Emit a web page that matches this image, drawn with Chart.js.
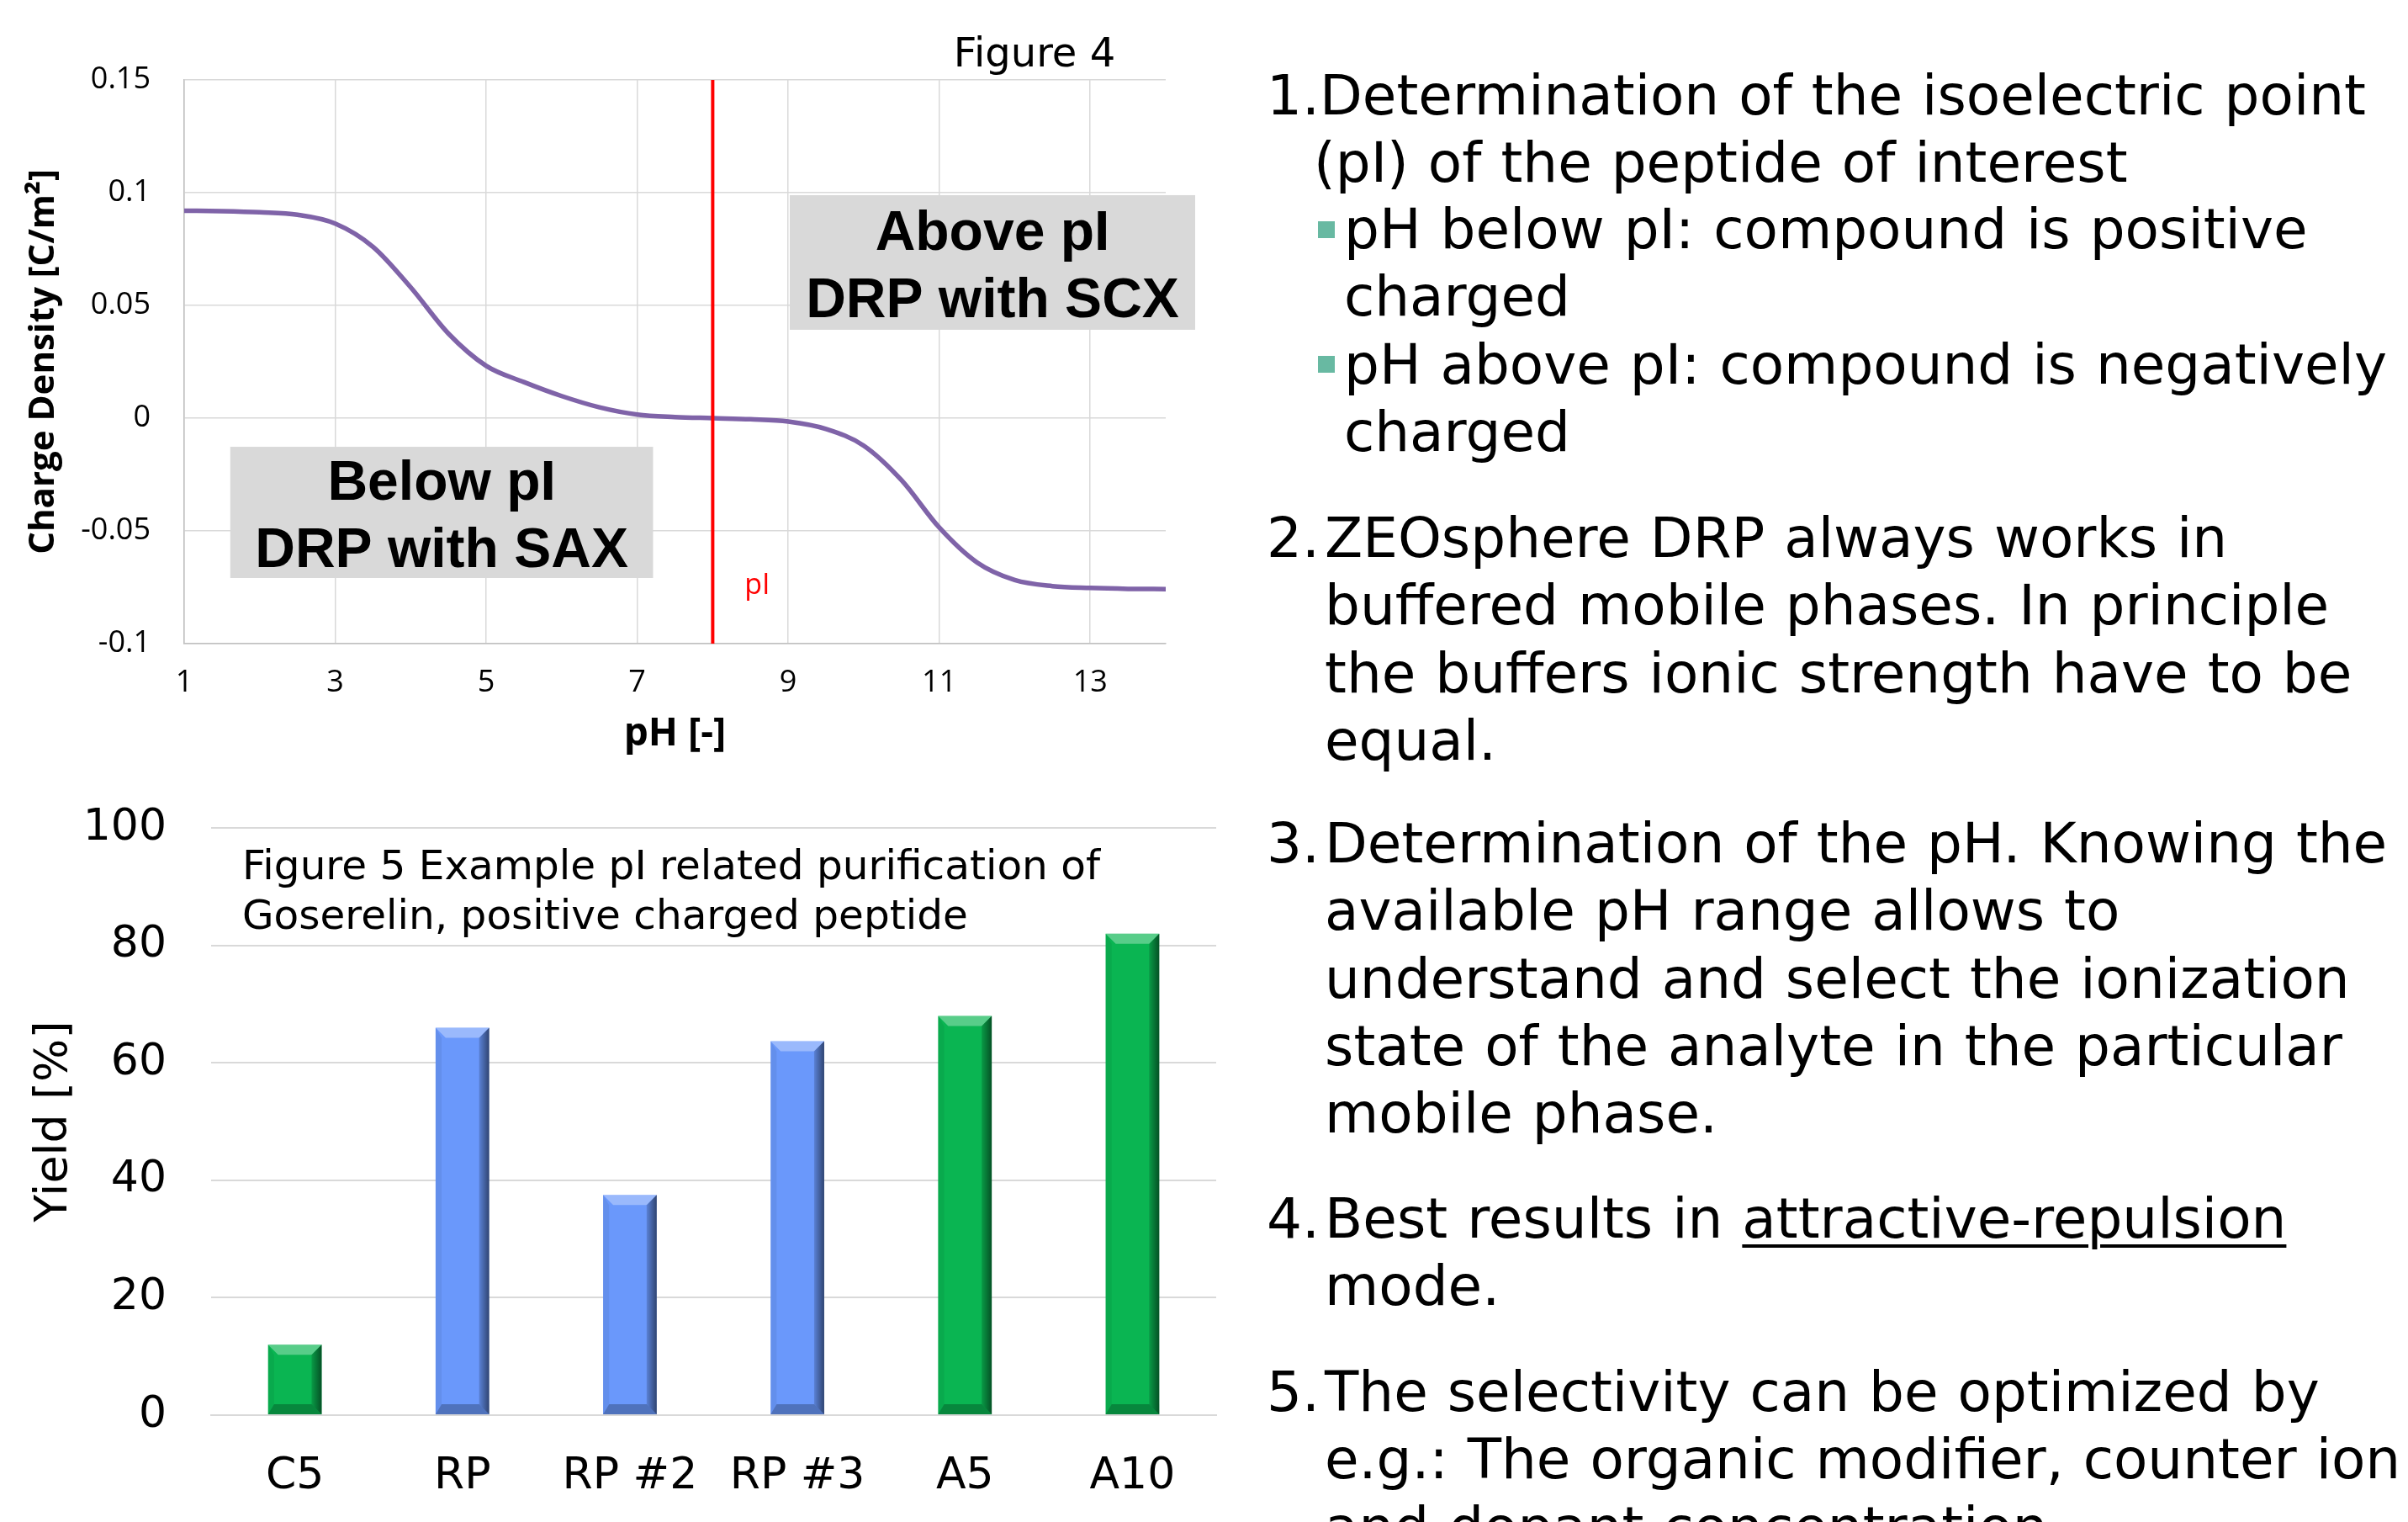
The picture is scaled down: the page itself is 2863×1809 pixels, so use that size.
<!DOCTYPE html>
<html>
<head>
<meta charset="utf-8">
<script src="https://cdn.jsdelivr.net/npm/chart.js@4.4.1/dist/chart.umd.min.js"></script>
<style>
  html, body { margin: 0; padding: 0; background: #fff; }
  body { width: 2863px; height: 1809px; position: relative; overflow: hidden; }
  #chargeChart { position: absolute; left: 0; top: 0; }
  #yieldChart { position: absolute; left: 0; top: 900px; }
  .notes {
    position: absolute;
    font-family: "DejaVu Sans", Verdana, sans-serif;
    font-size: 66px;
    line-height: 80.3px;
    color: #000;
    white-space: nowrap;
    word-spacing: 2px;
  }
  .bullet { position: absolute; left: 1567px; width: 20px; height: 20px; background: #68B9A2; }
  u { text-decoration-thickness: 4px; text-underline-offset: 8px; }
</style>
</head>
<body>
<canvas id="chargeChart" width="1450" height="900"></canvas>
<canvas id="yieldChart" width="1450" height="909"></canvas>

<!-- right hand notes -->
<div class="notes" style="left:1506px;top:74px">1.Determination of the isoelectric point</div>
<div class="notes" style="left:1562px;top:154px">(pI) of the peptide of interest</div>
<div class="bullet" style="top:263px"></div>
<div class="bullet" style="top:423px"></div>
<div class="notes" style="left:1598px;top:233px">pH below pI: compound is positive<br>charged<br>pH above pI: compound is negatively<br>charged</div>

<div class="notes" style="left:1506px;top:600px">2.</div>
<div class="notes" style="left:1575px;top:600px">ZEOsphere DRP always works in<br>buffered mobile phases. In principle<br>the buffers ionic strength have to be<br>equal.</div>

<div class="notes" style="left:1506px;top:963px">3.</div>
<div class="notes" style="left:1575px;top:963px">Determination of the pH. Knowing the<br>available pH range allows to<br>understand and select the ionization<br>state of the analyte in the particular<br>mobile phase.</div>

<div class="notes" style="left:1506px;top:1409px">4.</div>
<div class="notes" style="left:1575px;top:1409px">Best results in <u>attractive-repulsion</u><br>mode.</div>

<div class="notes" style="left:1506px;top:1615px">5.</div>
<div class="notes" style="left:1575px;top:1615px">The selectivity can be optimized by<br>e.g.: The organic modifier, counter ion<br>and dopant concentration.</div>

<script>
// ---- Figure 4: charge density vs pH ----
const phValues = [1, 1.5, 2, 2.5, 3, 3.5, 4, 4.5, 5, 5.5, 6, 6.5, 7, 7.5, 8,
                  8.5, 9, 9.5, 10, 10.5, 11, 11.5, 12, 12.5, 13, 13.5, 14];
const chargeDensity = [0.0920, 0.0918, 0.0913, 0.0902, 0.0863, 0.0760, 0.0580, 0.0375, 0.0232,
                       0.0160, 0.0098, 0.0048, 0.0016, 0.0005, 0.0000, -0.0005, -0.0015, -0.0048,
                       -0.0122, -0.0275, -0.0485, -0.0640, -0.0718, -0.0745, -0.0753, -0.0757, -0.0758];
const phTicks = [1, 3, 5, 7, 9, 11, 13];
const chargeTicks = [-0.1, -0.05, 0, 0.05, 0.1, 0.15];
const chargeTickLabels = ['-0.1', '-0.05', '0', '0.05', '0.1', '0.15'];
const isoelectricPH = 8;

// ---- Figure 5: yield per column ----
const columns = ['C5', 'RP', 'RP #2', 'RP #3', 'A5', 'A10'];
const yieldValues = [12, 66, 37.5, 63.7, 68, 82];
const columnGroups = ['DRP', 'RP', 'RP', 'RP', 'DRP', 'DRP'];
const yieldTicks = [0, 20, 40, 60, 80, 100];

const groupColors = { DRP: '#0AB552', RP: '#6A98FB' };

// gray text boxes on fig 4, placed in data units
const phBoxes = [
  { x0: 9.02, x1: 14.39, y0: 0.0989, y1: 0.0392, lines: ['Above pI', 'DRP with SCX'] },
  { x0: 1.61, x1: 7.21, y0: -0.0127, y1: -0.0709, lines: ['Below pI', 'DRP with SAX'] }
];

const phNotes = {
  id: 'phNotes',
  beforeDatasetsDraw(chart) {
    const { ctx, scales: { x, y } } = chart;
    ctx.save();
    phBoxes.forEach(b => {
      const left = x.getPixelForValue(b.x0), right = x.getPixelForValue(b.x1);
      const top = y.getPixelForValue(b.y0), bottom = y.getPixelForValue(b.y1);
      ctx.fillStyle = '#D9D9D9';
      ctx.fillRect(left, top, right - left, bottom - top);
      const cx = (left + right) / 2, cy = (top + bottom) / 2;
      ctx.fillStyle = '#000';
      ctx.font = 'bold 66px "Liberation Sans", Arial, sans-serif';
      ctx.textAlign = 'center';
      ctx.textBaseline = 'alphabetic';
      ctx.fillText(b.lines[0], cx, cy - 15);
      ctx.fillText(b.lines[1], cx, cy + 65);
    });
    ctx.restore();
  },
  afterDatasetsDraw(chart) {
    const { ctx, chartArea, scales: { x, y } } = chart;
    ctx.save();
    ctx.fillStyle = '#FF0000';
    ctx.font = '34px "Open Sans", sans-serif';
    ctx.textAlign = 'center';
    ctx.textBaseline = 'middle';
    ctx.fillText('pI', x.getPixelForValue(isoelectricPH + 0.59), y.getPixelForValue(-0.0743));

    ctx.fillStyle = '#000';
    ctx.font = '48px "DejaVu Sans", Verdana, sans-serif';
    ctx.textBaseline = 'alphabetic';
    ctx.fillText('Figure 4', chartArea.right - 156, chartArea.top - 16);
    ctx.restore();
  }
};

new Chart(document.getElementById('chargeChart'), {
  type: 'line',
  data: {
    datasets: [
      {
        data: phValues.map((p, i) => ({ x: p, y: chargeDensity[i] })),
        borderColor: '#7F63A8',
        borderWidth: 5.5,
        pointRadius: 0,
        cubicInterpolationMode: 'monotone',
        order: 2
      },
      {
        data: [{ x: isoelectricPH, y: chargeTicks[0] },
               { x: isoelectricPH, y: chargeTicks[chargeTicks.length - 1] }],
        borderColor: '#FF0000',
        borderWidth: 4,
        pointRadius: 0,
        order: 1
      }
    ]
  },
  options: {
    responsive: false,
    animation: false,
    layout: { padding: { top: 95, right: 64, left: 0, bottom: 0 } },
    plugins: { legend: { display: false }, tooltip: { enabled: false } },
    scales: {
      x: {
        type: 'linear',
        min: 1,
        max: 14,
        afterBuildTicks: s => { s.ticks = phTicks.map(v => ({ value: v })); },
        afterFit: s => { s.height = 135; },
        grid: { color: '#D9D9D9', lineWidth: 1.5, drawTicks: false },
        border: { color: '#BFBFBF', width: 1.5 },
        ticks: {
          padding: 25, color: '#000', maxRotation: 0, autoSkip: false,
          font: { family: 'Open Sans', size: 36 },
          callback: v => String(v)
        },
        title: {
          display: true, text: 'pH [-]', color: '#000', padding: 0,
          font: { family: 'Open Sans', size: 46, weight: 'bold' }
        }
      },
      y: {
        min: chargeTicks[0],
        max: chargeTicks[chargeTicks.length - 1],
        afterBuildTicks: s => { s.ticks = chargeTicks.map(v => ({ value: v })); },
        afterFit: s => { s.width = 219; },
        grid: { color: '#D9D9D9', lineWidth: 1.5, drawTicks: false },
        border: { color: '#BFBFBF', width: 1.5 },
        ticks: {
          padding: 40, color: '#000',
          font: { family: 'Open Sans', size: 36 },
          callback: (v, i) => chargeTickLabels[i]
        },
        title: {
          display: true, text: 'Charge Density [C/m²]', color: '#000',
          padding: { top: 27, bottom: 0 },
          font: { family: 'Open Sans', size: 42, weight: 'bold' }
        }
      }
    }
  },
  plugins: [phNotes]
});

// bevelled bars + caption for fig 5
const barBevel = {
  id: 'barBevel',
  afterDatasetsDraw(chart) {
    const ctx = chart.ctx;
    const meta = chart.getDatasetMeta(0);
    ctx.save();
    meta.data.forEach(bar => {
      const { x, y, base, width } = bar.getProps(['x', 'y', 'base', 'width'], true);
      const l = x - width / 2, r = x + width / 2, t = y, b = base;
      const e = 12;
      const poly = (pts, fill) => {
        ctx.beginPath();
        ctx.moveTo(pts[0][0], pts[0][1]);
        pts.slice(1).forEach(p => ctx.lineTo(p[0], p[1]));
        ctx.closePath();
        ctx.fillStyle = fill;
        ctx.fill();
      };
      poly([[l, t], [r, t], [r - e, t + e], [l + e, t + e]], 'rgba(255,255,255,0.32)');
      poly([[l, t], [l + e * 0.6, t + e], [l + e * 0.6, b - e], [l, b]], 'rgba(0,0,0,0.06)');
      const g = ctx.createLinearGradient(r - e, 0, r, 0);
      g.addColorStop(0, 'rgba(0,0,0,0.15)');
      g.addColorStop(1, 'rgba(0,0,0,0.55)');
      poly([[r, t], [r, b], [r - e, b - e], [r - e, t + e]], g);
      poly([[l, b], [r, b], [r - e, b - e], [l + e * 0.6, b - e]], 'rgba(0,0,0,0.25)');
    });
    ctx.fillStyle = '#000';
    ctx.font = '48.5px "DejaVu Sans", Verdana, sans-serif';
    ctx.textAlign = 'left';
    ctx.textBaseline = 'alphabetic';
    const a = chart.chartArea;
    ctx.fillText('Figure 5 Example pI related purification of', a.left + 37, a.top + 61);
    ctx.fillText('Goserelin, positive charged peptide', a.left + 37, a.top + 120);
    ctx.restore();
  }
};

new Chart(document.getElementById('yieldChart'), {
  type: 'bar',
  data: {
    labels: columns,
    datasets: [{
      data: yieldValues,
      backgroundColor: columnGroups.map(g => groupColors[g]),
      barPercentage: 0.32,
      categoryPercentage: 1
    }]
  },
  options: {
    responsive: false,
    animation: false,
    layout: { padding: { top: 82, right: 4, left: 0, bottom: 0 } },
    plugins: { legend: { display: false }, tooltip: { enabled: false } },
    scales: {
      x: {
        afterFit: s => { s.height = 127; },
        grid: { display: false, drawTicks: false },
        border: { color: '#D9D9D9', width: 2 },
        ticks: { padding: 42, color: '#000', font: { family: 'DejaVu Sans', size: 52 } }
      },
      y: {
        min: yieldTicks[0],
        max: yieldTicks[yieldTicks.length - 1],
        afterBuildTicks: s => { s.ticks = yieldTicks.map(v => ({ value: v })); },
        afterFit: s => { s.width = 251; },
        grid: { color: '#D9D9D9', lineWidth: 2, drawTicks: false },
        border: { display: false },
        ticks: {
          padding: 53, color: '#000',
          font: { family: 'DejaVu Sans', size: 52 },
          callback: v => String(v)
        },
        title: {
          display: true, text: 'Yield [%]', color: '#000',
          padding: { top: 33, bottom: 0 },
          font: { family: 'DejaVu Sans', size: 54 }
        }
      }
    }
  },
  plugins: [barBevel]
});
</script>
</body>
</html>
